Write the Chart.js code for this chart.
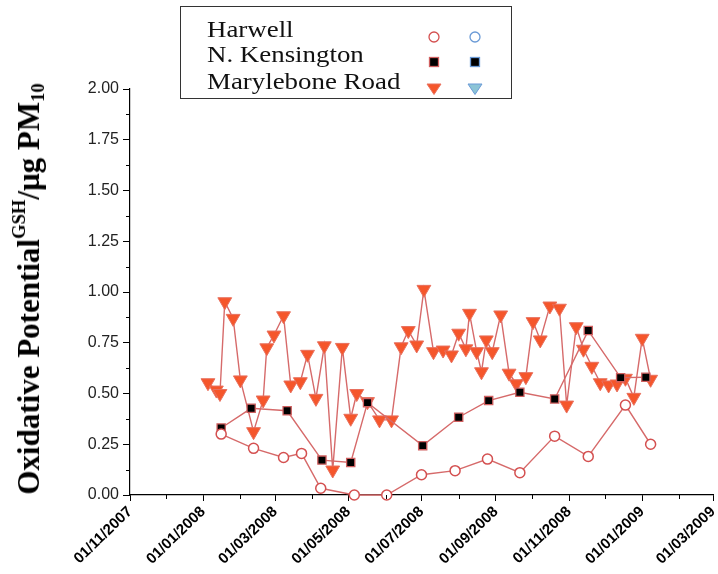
<!DOCTYPE html>
<html>
<head>
<meta charset="utf-8">
<script src="https://cdn.jsdelivr.net/npm/chart.js@4.4.1/dist/chart.umd.min.js"></script>
<style>
  body { margin: 0; background: #fff; }
  #wrap { position: relative; width: 718px; height: 574px; }
  #ytitle {
    position: absolute; left: 29px; top: 289px;
    transform: translate(-50%, -50%) rotate(-90deg);
    white-space: nowrap;
    font: bold 31px "Liberation Serif", serif; color: #000;
  }
  #ytitle sup { font-size: 60%; vertical-align: 0.75em; line-height: 0; }
  #ytitle sub { font-size: 60%; vertical-align: -0.25em; line-height: 0; }
  #legend {
    position: absolute; left: 180px; top: 6px; width: 332px; height: 93px;
    border: 1px solid #333; box-sizing: border-box;
    font: 24px "Liberation Serif", serif; color: #111;
  }
  .row { position: absolute; left: 26px; height: 27px; line-height: 27px; }
  .row span { display: inline-block; transform: scaleX(1.12); transform-origin: left center; }
  .mk { position: absolute; }
</style>
</head>
<body>
<div id="wrap">
  <canvas id="realtimeChart" width="718" height="574"></canvas>
  <div id="ytitle">Oxidative Potential<sup>GSH</sup>/μg PM<sub>10</sub></div>
  <div id="legend"></div>
</div>
<script>
// values
const harwellDates = ['16/01/2008','12/02/2008','08/03/2008','23/03/2008','08/04/2008','06/05/2008','02/06/2008',
  '01/07/2008','29/07/2008','25/08/2008','21/09/2008','20/10/2008','17/11/2008','18/12/2008','08/01/2009'];
const harwellValues = [0.30, 0.23, 0.185, 0.205, 0.033, 0.0, 0.0, 0.10, 0.12, 0.177, 0.11, 0.29, 0.19, 0.443, 0.25];

const kensingtonDates = ['16/01/2008','10/02/2008','11/03/2008','09/04/2008','03/05/2008','17/05/2008','02/07/2008',
  '01/08/2008','26/08/2008','21/09/2008','20/10/2008','17/11/2008','14/12/2008','04/01/2009'];
const kensingtonValues = [0.33, 0.427, 0.415, 0.172, 0.16, 0.455, 0.243, 0.383, 0.465, 0.506, 0.473, 0.81, 0.578, 0.58];

const maryleboneDates = ['05/01/2008','12/01/2008','15/01/2008','19/01/2008','26/01/2008','01/02/2008','12/02/2008',
  '20/02/2008','23/02/2008','29/02/2008','08/03/2008','14/03/2008','22/03/2008','28/03/2008','04/04/2008',
  '11/04/2008','18/04/2008','26/04/2008','03/05/2008','08/05/2008','17/05/2008','27/05/2008','06/06/2008',
  '14/06/2008','20/06/2008','27/06/2008','03/07/2008','11/07/2008','19/07/2008','26/07/2008','01/08/2008',
  '07/08/2008','10/08/2008','16/08/2008','20/08/2008','24/08/2008','29/08/2008','05/09/2008','12/09/2008',
  '18/09/2008','26/09/2008','02/10/2008','08/10/2008','16/10/2008','24/10/2008','30/10/2008','07/11/2008',
  '13/11/2008','20/11/2008','27/11/2008','04/12/2008','11/12/2008','18/12/2008','25/12/2008','01/01/2009',
  '08/01/2009'];
const maryleboneValues = [0.553, 0.517, 0.50, 0.952, 0.87, 0.567, 0.312, 0.468, 0.725, 0.788, 0.883, 0.542,
  0.558, 0.693, 0.476, 0.735, 0.123, 0.727, 0.378, 0.50, 0.46, 0.37, 0.37, 0.73, 0.81, 0.739, 1.013, 0.706,
  0.714, 0.69, 0.797, 0.72, 0.895, 0.706, 0.607, 0.764, 0.706, 0.887, 0.60, 0.548, 0.583, 0.854, 0.764,
  0.931, 0.92, 0.443, 0.829, 0.718, 0.634, 0.553, 0.542, 0.547, 0.575, 0.481, 0.772, 0.57];

const xTickLabels = ['01/11/2007','01/01/2008','01/03/2008','01/05/2008','01/07/2008','01/09/2008',
  '01/11/2008','01/01/2009','01/03/2009'];
const xMinorTicks = ['01/12/2007','01/02/2008','01/04/2008','01/06/2008','01/08/2008','01/10/2008',
  '01/12/2008','01/02/2009'];
const yMinorTicks = [0.125, 0.375, 0.625, 0.875, 1.125, 1.375, 1.625, 1.875];

const seriesNames = ['Harwell', 'N. Kensington', 'Marylebone Road'];

// dd/mm/yyyy -> days since the first x tick
function dayOf(s) {
  const p = s.split('/');
  return (Date.UTC(+p[2], +p[1] - 1, +p[0]) - Date.UTC(2007, 10, 1)) / 86400000;
}
function pts(dates, values) {
  return dates.map((d, i) => ({ x: dayOf(d), y: values[i] }));
}

const lineRed = '#d66a6a';

// short in-between ticks
const minorTicks = {
  id: 'minorTicks',
  afterDraw(chart) {
    const ctx = chart.ctx, x = chart.scales.x, y = chart.scales.y;
    ctx.save();
    ctx.strokeStyle = '#000';
    ctx.lineWidth = 1;
    xMinorTicks.forEach(s => {
      const px = Math.round(x.getPixelForValue(dayOf(s))) + 0.5;
      ctx.beginPath(); ctx.moveTo(px, x.top); ctx.lineTo(px, x.top + 4); ctx.stroke();
    });
    yMinorTicks.forEach(v => {
      const py = Math.round(y.getPixelForValue(v)) + 0.5;
      ctx.beginPath(); ctx.moveTo(y.right - 4, py); ctx.lineTo(y.right, py); ctx.stroke();
    });
    ctx.restore();
  }
};

Chart.defaults.font.family = '"Liberation Sans", Arial, sans-serif';

const ctx = document.getElementById('realtimeChart').getContext('2d');
new Chart(ctx, {
  type: 'line',
  data: {
    datasets: [
      {
        label: seriesNames[0],
        data: pts(harwellDates, harwellValues),
        borderColor: lineRed, borderWidth: 1.4,
        pointStyle: 'circle', pointRadius: 5, pointBorderWidth: 1.5,
        pointBackgroundColor: '#fff', pointBorderColor: '#d45050',
        clip: false
      },
      {
        label: seriesNames[1],
        data: pts(kensingtonDates, kensingtonValues),
        borderColor: lineRed, borderWidth: 1.4,
        pointStyle: 'rect', pointRadius: 5.8, pointBorderWidth: 1.3,
        pointBackgroundColor: '#000', pointBorderColor: '#d06060',
        clip: false
      },
      {
        label: seriesNames[2],
        data: pts(maryleboneDates, maryleboneValues),
        borderColor: lineRed, borderWidth: 1.4,
        pointStyle: 'triangle', pointRotation: 180, pointRadius: 8, pointBorderWidth: 1,
        pointBackgroundColor: '#f5562b', pointBorderColor: '#e8705e',
        clip: false
      }
    ]
  },
  options: {
    responsive: false,
    animation: false,
    layout: { autoPadding: false, padding: { left: 70, top: 89, right: 5, bottom: 0 } },
    plugins: { legend: { display: false }, tooltip: { enabled: false } },
    scales: {
      x: {
        type: 'linear',
        min: dayOf(xTickLabels[0]),
        max: dayOf(xTickLabels[xTickLabels.length - 1]),
        afterBuildTicks: s => { s.ticks = xTickLabels.map(l => ({ value: dayOf(l) })); },
        afterFit: s => { s.height = 79; s.paddingRight = 0; s.paddingLeft = 0; },
        border: { display: true, color: '#000', width: 1.2 },
        grid: { drawOnChartArea: false, drawTicks: true, tickLength: 6, color: '#000' },
        ticks: {
          autoSkip: false, minRotation: 44, maxRotation: 44, padding: 2,
          color: '#000', font: { size: 15, weight: 'bold' },
          callback: (v, i) => xTickLabels[i]
        }
      },
      y: {
        min: 0, max: 2,
        afterFit: s => { s.width = 60; },
        border: { display: true, color: '#000', width: 1.2 },
        grid: { drawOnChartArea: false, drawTicks: true, tickLength: 7, color: '#000' },
        ticks: {
          stepSize: 0.25, padding: 4, color: '#222', font: { size: 16 },
          callback: v => v.toFixed(2)
        }
      }
    }
  },
  plugins: [minorTicks]
});

// legend box with two symbol columns
const svgMarks = [
  (c) => `<svg width="14" height="14"><circle cx="7" cy="7" r="5" fill="#fff" stroke="${c}" stroke-width="1.3"/></svg>`,
  (c) => `<svg width="14" height="14"><rect x="2.5" y="2.5" width="9" height="9" fill="#000" stroke="${c}" stroke-width="1.3"/></svg>`,
  (c, f) => `<svg width="18" height="14"><polygon points="2,2 16,2 9,12.5" fill="${f}" stroke="${c}" stroke-width="1"/></svg>`
];
const markCols = [
  { left: 253, stroke: ['#d45050', '#d06060', '#e8705e'], fill: '#f5562b' },
  { left: 294, stroke: ['#6a9ad6', '#6a9ad6', '#6a9ad6'], fill: '#8cc4d6' }
];
const rowTops = [9, 34, 61];
const legend = document.getElementById('legend');
seriesNames.forEach((name, i) => {
  const row = document.createElement('div');
  row.className = 'row';
  row.style.top = rowTops[i] + 'px';
  row.innerHTML = '<span>' + name + '</span>';
  legend.appendChild(row);
  markCols.forEach(col => {
    const m = document.createElement('div');
    m.className = 'mk';
    m.style.left = (col.left - (i === 2 ? 9 : 7)) + 'px';
    m.style.top = (rowTops[i] + 13.5 - 7) + 'px';
    m.innerHTML = svgMarks[i](col.stroke[i], col.fill);
    legend.appendChild(m);
  });
});
</script>
</body>
</html>
